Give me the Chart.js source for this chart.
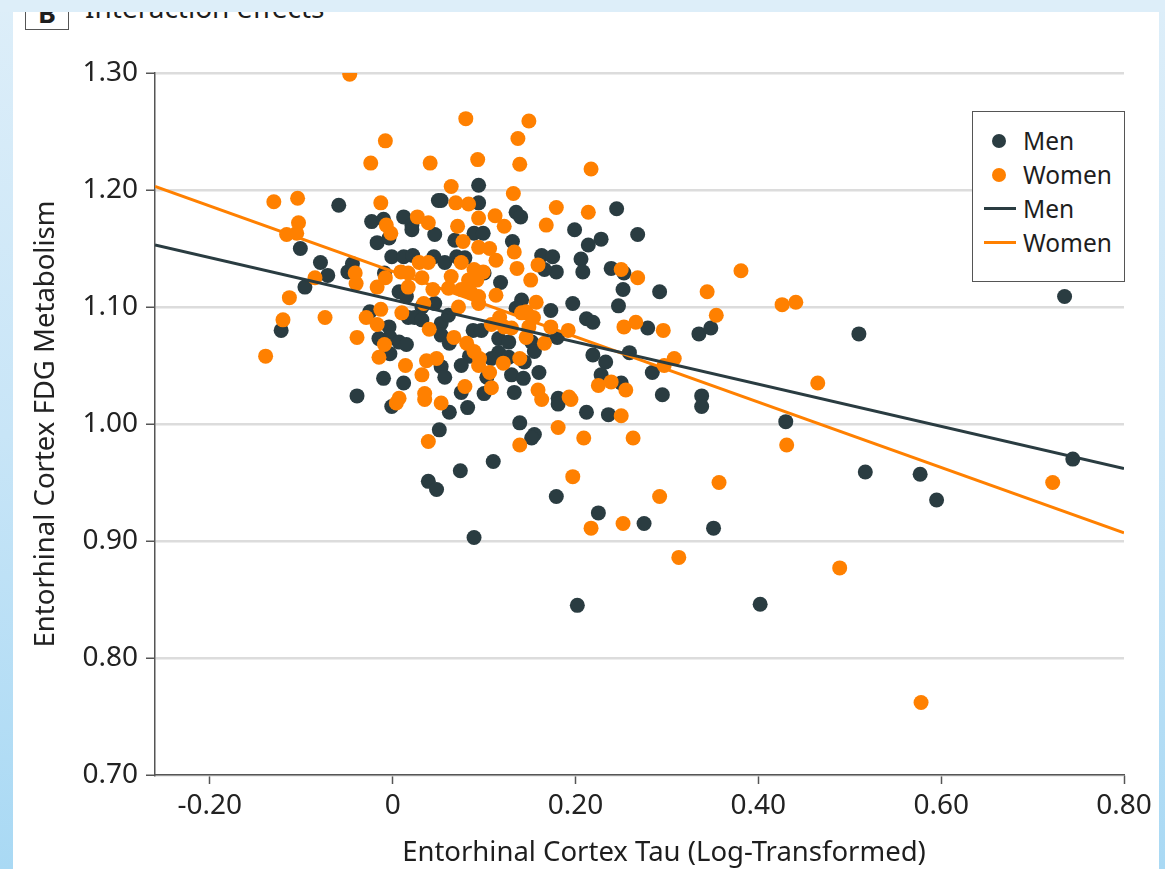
<!DOCTYPE html>
<html><head><meta charset="utf-8">
<script src="https://cdn.jsdelivr.net/npm/chart.js@4.4.1/dist/chart.umd.min.js"></script>
<style>
html,body{margin:0;padding:0;}
body{width:1165px;height:869px;position:relative;overflow:hidden;background:linear-gradient(to bottom,#ddeef9 0%,#c8e5f7 50%,#a9d9f4 100%);font-family:"Noto Sans",sans-serif;color:#1e1e1e;}
#panel{position:absolute;left:13px;top:12px;width:1146px;height:857px;background:#fff;}
#topband{position:absolute;left:0;top:0;width:1165px;height:12px;background:#ddeef9;z-index:10;}
#tag{position:absolute;left:25px;top:-5px;width:42px;height:33px;border:1.5px solid #555;font-weight:bold;font-size:27px;line-height:33px;text-align:center;z-index:2;}
#ttl{position:absolute;left:85px;top:-11px;font-size:28px;line-height:36px;white-space:nowrap;z-index:2;}
canvas{position:absolute;left:0;top:0;z-index:3;}
#xtitle{position:absolute;left:664px;top:834px;transform:translateX(-50%);font-size:27.5px;line-height:34px;white-space:nowrap;z-index:4;}
#legend{position:absolute;left:972px;top:111px;width:151px;height:157px;border:1.5px solid #555;background:#fff;z-index:5;padding-top:12px;box-sizing:content-box;}
#legend .row{position:relative;height:34px;}
#legend .dot{position:absolute;left:19px;top:10px;width:14px;height:14px;border-radius:50%;}
#legend .ln{position:absolute;left:11px;top:15px;width:32px;height:3px;}
#legend .lab{position:absolute;left:50px;top:0;font-size:24.5px;line-height:34px;white-space:nowrap;}
</style></head>
<body>
<div id="panel"></div>
<div id="topband"></div>
<div id="tag">B</div>
<div id="ttl">Interaction effects</div>
<canvas id="c" width="1165" height="869"></canvas>
<div id="xtitle">Entorhinal Cortex Tau (Log-Transformed)</div>
<div id="legend"></div>
<script>
const seriesNames = ['Men', 'Women'];
const seriesColors = ['#2a3c41', '#ff8000'];

const menX = [-0.122,-0.101,-0.096,-0.079,-0.071,-0.059,-0.044,-0.049,-0.039,-0.023,-0.010,0.012,0.021,0.050,-0.025,-0.017,-0.004,-0.001,0.012,0.022,-0.009,0.007,0.015,0.032,0.017,0.024,0.032,-0.004,-0.015,-0.003,0.007,0.015,-0.003,-0.010,0.012,0.046,0.045,0.046,0.021,-0.001,0.051,0.039,0.048,0.053,0.094,0.094,0.135,0.140,0.245,0.199,0.068,0.089,0.099,0.131,0.228,0.214,0.268,0.163,0.175,0.179,0.166,0.206,0.208,0.239,0.253,0.252,0.247,0.057,0.070,0.079,0.100,0.118,0.141,0.135,0.173,0.197,0.212,0.219,0.053,0.061,0.088,0.097,0.116,0.127,0.152,0.155,0.180,0.053,0.062,0.084,0.116,0.127,0.108,0.144,0.053,0.075,0.057,0.103,0.130,0.143,0.160,0.219,0.233,0.259,0.228,0.075,0.100,0.133,0.181,0.250,0.062,0.082,0.139,0.155,0.152,0.181,0.212,0.236,0.110,0.074,0.179,0.225,0.089,0.275,0.292,0.279,0.335,0.348,0.284,0.295,0.338,0.338,0.430,0.510,0.517,0.351,0.402,0.735,0.744,0.577,0.595,0.202];
const menY = [1.080,1.150,1.117,1.138,1.127,1.187,1.137,1.130,1.024,1.173,1.175,1.177,1.170,1.191,1.096,1.155,1.159,1.143,1.143,1.144,1.129,1.113,1.109,1.100,1.091,1.091,1.089,1.083,1.073,1.074,1.070,1.068,1.060,1.039,1.035,1.103,1.143,1.162,1.166,1.015,0.995,0.951,0.944,1.191,1.204,1.189,1.181,1.177,1.184,1.166,1.157,1.163,1.163,1.156,1.158,1.153,1.162,1.144,1.143,1.130,1.132,1.141,1.130,1.133,1.129,1.115,1.101,1.138,1.143,1.142,1.129,1.121,1.106,1.099,1.097,1.103,1.090,1.087,1.086,1.093,1.080,1.080,1.073,1.070,1.070,1.062,1.074,1.076,1.069,1.058,1.061,1.057,1.056,1.053,1.049,1.050,1.040,1.040,1.042,1.039,1.044,1.059,1.053,1.061,1.042,1.027,1.026,1.027,1.022,1.035,1.010,1.014,1.001,0.991,0.988,1.017,1.010,1.008,0.968,0.960,0.938,0.924,0.903,0.915,1.113,1.082,1.077,1.082,1.044,1.025,1.024,1.015,1.002,1.077,0.959,0.911,0.846,1.109,0.970,0.957,0.935,0.845];

const womenX = [-0.047,0.080,0.149,-0.008,0.137,0.093,-0.024,0.041,0.139,0.217,0.132,0.064,-0.130,-0.104,-0.013,0.069,0.083,0.179,0.214,-0.103,-0.116,-0.105,0.027,0.039,-0.007,0.094,0.112,0.122,0.168,0.071,-0.139,-0.120,-0.113,-0.085,-0.074,-0.041,-0.040,-0.039,-0.029,-0.017,-0.013,-0.009,-0.015,0.010,0.014,0.032,0.035,0.040,0.034,0.007,0.037,0.048,-0.017,-0.008,0.017,0.029,0.039,0.009,0.017,0.032,0.044,-0.002,0.004,0.039,0.035,0.077,0.094,0.106,0.113,0.133,0.136,0.159,0.151,0.250,0.268,0.075,0.089,0.099,0.064,0.083,0.092,0.061,0.075,0.086,0.094,0.113,0.072,0.094,0.157,0.141,0.146,0.154,0.117,0.122,0.108,0.130,0.149,0.146,0.173,0.192,0.166,0.253,0.266,0.067,0.081,0.089,0.095,0.094,0.139,0.121,0.106,0.225,0.239,0.255,0.079,0.108,0.159,0.193,0.053,0.163,0.195,0.139,0.181,0.209,0.250,0.263,0.197,0.217,0.252,0.381,0.344,0.354,0.426,0.441,0.296,0.308,0.297,0.465,0.431,0.357,0.292,0.313,0.489,0.722,0.578];
const womenY = [1.299,1.261,1.259,1.242,1.244,1.226,1.223,1.223,1.222,1.218,1.197,1.203,1.190,1.193,1.189,1.189,1.188,1.185,1.181,1.172,1.162,1.163,1.177,1.172,1.170,1.176,1.178,1.169,1.170,1.169,1.058,1.089,1.108,1.125,1.091,1.129,1.120,1.074,1.091,1.085,1.098,1.068,1.057,1.095,1.050,1.042,1.026,1.081,1.103,1.022,1.054,1.056,1.117,1.125,1.117,1.138,1.138,1.130,1.129,1.125,1.115,1.163,1.018,0.985,1.021,1.156,1.151,1.150,1.140,1.147,1.133,1.136,1.123,1.132,1.125,1.138,1.132,1.130,1.126,1.123,1.123,1.116,1.115,1.112,1.109,1.110,1.100,1.103,1.104,1.095,1.096,1.091,1.091,1.083,1.085,1.082,1.083,1.074,1.083,1.080,1.069,1.083,1.087,1.074,1.069,1.062,1.056,1.050,1.056,1.052,1.044,1.033,1.036,1.029,1.032,1.031,1.029,1.023,1.018,1.021,1.021,0.982,0.997,0.988,1.007,0.988,0.955,0.911,0.915,1.131,1.113,1.093,1.102,1.104,1.080,1.056,1.050,1.035,0.982,0.950,0.938,0.886,0.877,0.950,0.762];

const fitX = [-0.26, 0.80];
const menFitY = [1.153, 0.962];
const womenFitY = [1.203, 0.907];

const xTickValues = [-0.2, 0, 0.2, 0.4, 0.6, 0.8];
const yTickValues = [0.7, 0.8, 0.9, 1.0, 1.1, 1.2, 1.3];

const pts = (xs, ys) => xs.map((x, i) => ({x: x, y: ys[i]}));

// legend (HTML)
const legend = document.getElementById('legend');
const legendItems = [
  {kind:'dot', name:seriesNames[0], color:seriesColors[0]},
  {kind:'dot', name:seriesNames[1], color:seriesColors[1]},
  {kind:'ln', name:seriesNames[0], color:seriesColors[0]},
  {kind:'ln', name:seriesNames[1], color:seriesColors[1]}
];
legendItems.forEach(it => {
  const r = document.createElement('div'); r.className = 'row';
  const m = document.createElement('div'); m.className = it.kind; m.style.background = it.color;
  const l = document.createElement('div'); l.className = 'lab'; l.textContent = it.name;
  r.appendChild(m); r.appendChild(l); legend.appendChild(r);
});

Chart.defaults.font.family = '"Noto Sans", sans-serif';
new Chart(document.getElementById('c'), {
  type: 'scatter',
  data: {
    datasets: [
      {label: seriesNames[0] + ' fit', data: pts(fitX, menFitY), showLine: true, borderColor: seriesColors[0], borderWidth: 3, pointRadius: 0, order: 0},
      {label: seriesNames[1] + ' fit', data: pts(fitX, womenFitY), showLine: true, borderColor: seriesColors[1], borderWidth: 3, pointRadius: 0, order: 0},
      {label: seriesNames[1], data: pts(womenX, womenY), backgroundColor: seriesColors[1], borderWidth: 0, pointRadius: 7.5, order: 1},
      {label: seriesNames[0], data: pts(menX, menY), backgroundColor: seriesColors[0], borderWidth: 0, pointRadius: 7.5, order: 2}
    ]
  },
  options: {
    responsive: false,
    animation: false,
    devicePixelRatio: 1,
    layout: {padding: {left: 0, top: 73, right: 41, bottom: 0}},
    plugins: {legend: {display: false}, tooltip: {enabled: false}},
    scales: {
      x: {
        type: 'linear', min: -0.26, max: 0.8,
        afterBuildTicks: s => { s.ticks = xTickValues.map(v => ({value: v})); },
        afterFit: s => { s.height = 94; },
        grid: {drawOnChartArea: false, drawTicks: true, tickLength: 9, tickColor: '#555', tickWidth: 1.5},
        border: {display: true, color: '#555', width: 1.5},
        ticks: {padding: 5, color: '#222', font: {size: 28}, maxRotation: 0, autoSkip: false,
          callback: v => (Math.abs(v) < 1e-9 ? '0' : v.toFixed(2))}
      },
      y: {
        type: 'linear', min: 0.7, max: 1.3,
        afterBuildTicks: s => { s.ticks = yTickValues.map(v => ({value: v})); },
        afterFit: s => { s.width = 155; },
        grid: {color: '#dcdcdc', lineWidth: 2.5, drawTicks: true, tickLength: 9, tickColor: '#555', tickWidth: 1.5},
        border: {display: true, color: '#555', width: 1.5},
        ticks: {padding: 8, color: '#222', font: {size: 28}, callback: v => v.toFixed(2)},
        title: {display: true, text: 'Entorhinal Cortex FDG Metabolism', color: '#222', font: {size: 27.5}, padding: {top: 30, bottom: 0}}
      }
    }
  }
});
</script>
</body></html>
